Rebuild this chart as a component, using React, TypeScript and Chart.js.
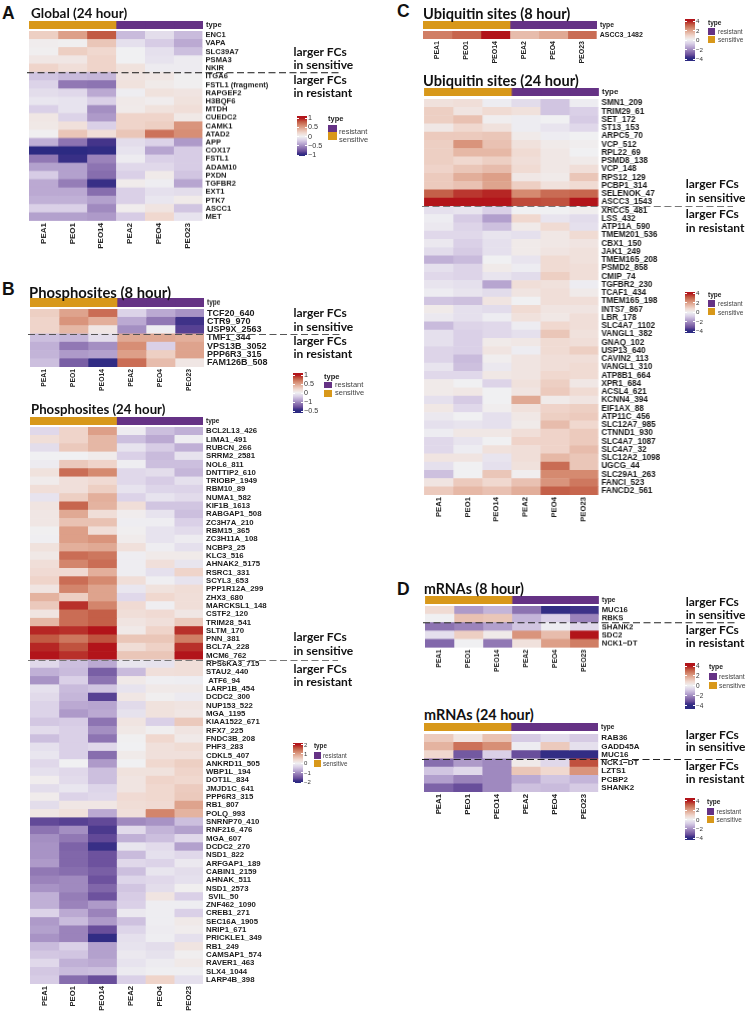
import React, { useEffect, useRef } from "react";
import { Chart, registerables } from "chart.js";

Chart.register(...registerables);

// ---------- shared categories ----------
const samples = ["PEA1", "PEO1", "PEO14", "PEA2", "PEO4", "PEO23"];
const sampleTypes = ["sensitive", "sensitive", "sensitive", "resistant", "resistant", "resistant"];
const typeColors: Record<string, string> = { resistant: "#653285", sensitive: "#D8981A" };

// ---------- A: Global (24 hour) ----------
const globalRows = ["ENC1", "VAPA", "SLC39A7", "PSMA3", "NKIR", "ITGA6", "FSTL1 (fragment)", "RAPGEF2", "H3BQF6", "MTDH", "CUEDC2", "CAMK1", "ATAD2", "APP", "COX17", "FSTL1", "ADAM10", "PXDN", "TGFBR2", "EXT1", "PTK7", "ASCC1", "MET"];
const globalValues = [
  [.25, .5, .8, -.3, -.12, -.3],
  [.03, .02, .3, -.1, -.22, -.38],
  [.02, .25, .2, 0, -.1, -.28],
  [.08, .08, .22, 0, -.08, -.03],
  [.22, .15, .22, .12, -.03, -.03],
  [-.25, -.3, -.32, .1, .08, .01],
  [-.18, -.6, -.62, .12, .05, .02],
  [-.12, -.15, -.38, -.02, .12, .1],
  [-.06, -.08, -.2, .06, .03, .12],
  [-.2, -.08, -.5, .05, .12, .15],
  [.08, -.18, -.45, .22, .22, .07],
  [.07, .13, -.2, .22, .25, .55],
  [.01, .3, .15, .3, .7, .58],
  [-.35, -.62, -.9, -.12, -.18, -.45],
  [-1, -1, -.98, -.08, -.4, -.22],
  [-.6, -.95, -.55, -.03, -.2, -.22],
  [-.42, -.42, -.62, -.15, -.15, -.22],
  [-.22, -.42, -.65, -.2, .05, -.25],
  [-.38, -.58, -.95, .04, -.02, -.4],
  [-.38, -.38, -.65, -.2, -.1, -.12],
  [-.35, -.35, -.42, -.2, -.06, .05],
  [-.2, -.2, -.52, .03, .1, -.25],
  [-.42, -.42, -.45, -.22, .2, -.08],
];

// ---------- B: Phosphosites (8 hour) ----------
const phos8Rows = ["TCF20_640", "CTR9_970", "USP9X_2563", "TMF1_344", "VPS13B_3052", "PPP6R3_315", "FAM126B_508"];
const phos8Values = [
  [.25, .48, .72, -.18, -.38, -.48],
  [.22, .55, .42, -.38, -.6, -.92],
  [.22, .38, .08, -.5, -.02, -.85],
  [-.28, -.32, -.12, .45, .45, .42],
  [-.35, -.6, -.5, .58, -.2, .48],
  [-.33, -.45, -.42, .5, .25, .48],
  [-.28, -.72, -.98, .72, .35, .08],
];

// ---------- B: Phosphosites (24 hour) ----------
const phos24Rows = ["BCL2L13_426", "LIMA1_491", "RUBCN_266", "SRRM2_2581", "NOL6_811", "DNTTIP2_610", "TRIOBP_1949", "RBM10_89", "NUMA1_582", "KIF1B_1613", "RABGAP1_508", "ZC3H7A_210", "RBM15_365", "ZC3H11A_108", "NCBP3_25", "KLC3_516", "AHNAK2_5175", "RSRC1_331", "SCYL3_653", "PPP1R12A_299", "ZHX3_680", "MARCKSL1_148", "CSTF2_120", "TRIM28_541", "SLTM_170", "PNN_381", "BCL7A_228", "MCM6_762", "RPS6KA3_715", "STAU2_440", " ATF6_94", "LARP1B_454", "DCDC2_300", "NUP153_522", "MGA_1195", "KIAA1522_671", "RFX7_225", "FNDC3B_208", "PHF3_283", "CDKL5_407", "ANKRD11_505", "WBP1L_194", "DOT1L_834", "JMJD1C_641", "PPP6R3_315", "RB1_807", "POLQ_993", "SNRNP70_410", "RNF216_476", "MGA_607", "DCDC2_270", "NSD1_822", "ARFGAP1_189", "CABIN1_2159", "AHNAK_511", "NSD1_2573", " SVIL_50", "ZNF462_1090", "CREB1_271", "SEC16A_1905", "NRIP1_671", "PRICKLE1_349", "RB1_249", "CAMSAP1_574", "RAVER1_463", "SLX4_1044", "LARP4B_398"];
const phos24Values = [
  [-.3, .44, 1, -.06, -.56, -.7],
  [.3, .44, .76, -.56, -.76, -.04],
  [-.24, .56, .76, -.16, -.44, -.7],
  [0, 0, .08, -.4, -.6, -.16],
  [-.06, .56, .44, -.04, -.56, -.56],
  [.24, 1.44, 1.2, -.3, -.24, -.64],
  [.08, .28, .36, -.3, -.44, -.2],
  [.3, .28, .5, -.16, -.34, -.36],
  [-.16, .5, .84, -.36, -.16, -.26],
  [.2, 1.5, .8, .3, -.5, -.5],
  [.16, .9, .3, .06, -.16, -.56],
  [.16, .64, .64, -.04, -.04, -.4],
  [.02, 1, .3, .04, -.16, -.26],
  [-.02, 1, 1.1, .08, -.16, -.06],
  [.24, .84, .9, .26, -.04, -.2],
  [.14, 1.44, 1.36, -.04, .1, .1],
  [.3, 1.24, 1.44, -.04, .28, -.14],
  [.36, .36, .84, -.04, -.2, .44],
  [.44, 1.44, 1.2, .3, -.02, -.16],
  [.2, 1.24, .96, -.12, .24, .32],
  [.8, .5, .96, -.3, .4, .3],
  [.56, 1.84, 1.24, .36, -.02, .3],
  [.2, 1.44, 1.56, .3, .36, .16],
  [.76, 1.44, 1.56, .2, .28, .56],
  [1.9, 1.84, 2, .12, .44, 1.84],
  [1.6, 1.36, 1.64, .6, .6, 1.3],
  [1.9, 1.64, 2, .32, .48, 1.84],
  [2, 1.84, 2, .6, .6, 2],
  [-.3, -.56, -.76, -.14, -.18, .3],
  [-.7, -.6, -1.44, -.6, .28, .3],
  [-.96, -.4, -1.24, .12, -.02, -.04],
  [-.2, -.6, -.5, -.16, .12, .12],
  [-.28, -.64, -1.7, .16, .04, -.08],
  [-.36, -.76, -.8, -.28, .24, .2],
  [-.36, -.9, -.76, -.18, .24, .16],
  [-.48, -.44, -1.24, .2, -.4, .56],
  [-.26, -.4, -1, .14, .04, .2],
  [-.56, -.4, -1.24, .02, .4, .12],
  [-.2, -.4, -.3, 0, .26, .34],
  [-.12, -.4, -1.3, .1, .26, .26],
  [-.3, 0, -.9, 0, .4, .5],
  [-.2, -.3, -.56, .24, .24, .44],
  [.06, -.26, -.56, .2, .44, .4],
  [-.24, -.12, -.34, .2, .4, .54],
  [.08, -.36, -.3, .36, .4, .56],
  [-.24, .16, .16, .32, .36, .96],
  [.16, .26, -.76, .28, 1.24, .8],
  [-1.64, -1.7, -1.64, -1.04, -.96, -.56],
  [-1.24, -1, -1.76, -.28, -.66, -.84],
  [-1, -1.2, -1.64, -.7, -.56, -.3],
  [-.96, -1.4, -1.9, -.14, -.26, -.84],
  [-.96, -1.36, -1.56, -.6, -.2, -.3],
  [-.9, -1.36, -1.56, -.3, -.36, -.1],
  [-1.2, -1.3, -1.44, -.56, -.14, -.24],
  [-1.1, -1.04, -1.56, -.34, -.3, -.2],
  [-.96, -1.04, -1.36, -.5, -.24, .04],
  [-.7, -1.16, -1.56, -.44, .2, -.4],
  [-.7, -1.1, -.9, -.4, -.04, -.04],
  [-.36, -.76, -1.1, -.1, -.04, -.4],
  [-.9, -.6, -.9, -.54, -.04, .12],
  [-.84, -1.1, -1.6, -.34, -.06, .06],
  [-.96, -1.1, -1.96, -.2, -.04, -.2],
  [-.6, -.4, -.84, -.16, -.24, .2],
  [-.48, -.5, -.84, -.1, -.18, .04],
  [-.3, -.7, -.76, -.16, -.06, .12],
  [-.48, -.6, -.56, -.08, -.02, -.02],
  [-.44, -1.3, -1.6, -.4, .44, -.2],
];

// ---------- C: Ubiquitin sites (8 hour) ----------
const ubi8Rows = ["ASCC3_1482"];
const ubi8Values = [[2.6, 3, 4, 1.4, 1.8, 2.9]];

// ---------- C: Ubiquitin sites (24 hour) ----------
const ubi24Rows = ["SMN1_209", "TRIM29_61", "SET_172", "ST13_153", "ARPC5_70", "VCP_512", "RPL22_69", "PSMD8_138", "VCP_148", "RPS12_129", "PCBP1_314", "SELENOK_47", "ASCC3_1543", "XRCC5_481", "LSS_432", "ATP11A_590", "TMEM201_536", "CBX1_150", "JAK1_249", "TMEM165_208", "PSMD2_858", "CMIP_74", "TGFBR2_230", "TCAF1_434", "TMEM165_198", "INTS7_867", "LBR_178", "SLC4A7_1102", "VANGL1_382", "GNAQ_102", "USP13_640", "CAVIN2_113", "VANGL1_310", "ATP8B1_664", "XPR1_684", "ACSL4_621", "KCNN4_394", "EIF1AX_88", "ATP11C_456", "SLC12A7_985", "CTNND1_930", "SLC4A7_1087", "SLC4A7_32", "SLC12A2_1098", "UGCG_44", "SLC29A1_263", "FANCI_523", "FANCD2_561"];
const ubi24Values = [
  [.5, .6, -.1, -.5, -1, -.1],
  [1, .4, .7, .5, -1, -.8],
  [1, 1.3, .1, -.1, 0, -.9],
  [.3, .8, .5, -.1, -.3, -.6],
  [1.1, 1.1, 1.2, .2, -.1, 0],
  [1, 2.2, 1.3, .5, .2, .1],
  [1, 1.5, 1.5, .7, .3, 0],
  [1, .8, 1, .6, .3, .2],
  [.9, 1.2, 1.4, .7, .3, .6],
  [1.1, 1.7, 2, .3, .2, 1.2],
  [1.1, 1.3, 1.9, 1, .5, .7],
  [3.1, 3.6, 3.8, 2.4, 2.9, 3],
  [4, 4, 4, 3.4, 3.3, 4],
  [-.4, -.3, -.8, 0, 0, .1],
  [-.1, -.9, -1.7, .8, -.3, -.5],
  [-.2, -.7, -1.1, .2, .7, -.4],
  [-.6, -.6, -.3, -.4, .3, .7],
  [-.2, -.8, -.4, .2, .3, .4],
  [-.5, -.9, -.4, .2, .4, .5],
  [-1.4, -1.2, 0, -.3, .7, .5],
  [-.4, -.7, .2, -.1, .7, .6],
  [-.6, -.7, -.3, -.5, 1, .6],
  [-.3, -.4, -1.6, .6, .5, -.1],
  [-.1, -.3, -.5, .4, .6, .2],
  [-1, -1.1, .4, 0, .6, .6],
  [.2, -.4, -.5, .7, .4, .4],
  [-.2, -.4, -.1, .5, .3, .6],
  [-1.2, -.7, -.6, -.1, .8, .6],
  [-.4, -.8, -.6, -.4, 1.2, .5],
  [-.4, -.8, .2, .3, .7, .6],
  [-.7, -.8, .4, -.1, .7, 1],
  [-.7, -1.2, .1, .4, .6, .6],
  [-.3, -1.1, -.2, .4, .6, .7],
  [-.6, -.6, .3, .4, .8, .7],
  [.2, 0, -.7, .5, 1, .3],
  [.2, .3, 0, .4, 1.1, .7],
  [-.4, -.9, 0, 1.8, .2, .4],
  [.3, -.6, .1, .5, .9, 1],
  [-.2, 0, -.4, .3, 1, 1.1],
  [-.4, -.3, -.4, .2, 1.4, .8],
  [-.1, .3, .3, .6, .9, 1.1],
  [-.6, -.3, 0, .9, .9, 1.1],
  [-.6, -.1, .5, .6, .9, 1.4],
  [.4, .4, -.3, .6, 1.5, 1.2],
  [-.4, 0, -.4, .5, 2.9, 1.2],
  [-1.1, 0, 1.2, .1, 2.4, 2.4],
  [.4, 1.1, .8, 1.3, 2.2, 2.7],
  [1.1, 1.5, 1.3, 1.7, 3.1, 3],
];

// ---------- D: mRNAs ----------
const mrna8Rows = ["MUC16", "RBKS", "SHANK2", "SDC2", "NCK1\u2212DT"];
const mrna8Values = [
  [.7, -1.8, -1.3, -2.5, -3.9, -3.7],
  [0, 1.3, 1.2, -1.3, -.8, -2.2],
  [-2.5, -2.2, -1.7, -1, -.1, -.6],
  [-.4, 1, .2, 2.2, 1.4, 4],
  [-2.7, 0, -2.4, .5, 2, 2.6],
];
const mrna24Rows = ["RAB36", "GADD45A", "MUC16", "NCK1\u2212DT", "LZTS1", "PCBP2", "SHANK2"];
const mrna24Values = [
  [1.1, .4, 1.3, -.9, -.5, -.9],
  [1.6, 2.8, 2.3, -.1, 1.1, -.4],
  [.8, -3, -.8, -3.2, -3.9, -3.9],
  [-2.6, -1.8, -2.1, .2, -.6, 3.3],
  [-1, -.6, -2.1, 1.2, .8, 2.2],
  [-1.7, -2.2, -2.1, -1.5, -1, -1.3],
  [-2.8, -3.2, -2.1, -1.1, -1.2, -.9],
];

// ---------- colour ramp (fraction of colour-bar maximum -> colour) ----------
const rampStops: [number, number[]][] = [
  [-1, [44, 42, 130]],
  [-.9, [68, 52, 138]],
  [-.8, [105, 78, 155]],
  [-.6, [145, 120, 180]],
  [-.4, [183, 165, 208]],
  [-.2, [218, 208, 231]],
  [0, [240, 240, 242]],
  [.2, [240, 216, 207]],
  [.4, [228, 179, 160]],
  [.6, [213, 138, 112]],
  [.8, [194, 90, 67]],
  [1, [178, 20, 26]],
];
function rampColor(f: number) {
  const t = Math.max(-1, Math.min(1, f));
  for (let i = 1; i < rampStops.length; i++) {
    const [a, ca] = rampStops[i - 1];
    const [b, cb] = rampStops[i];
    if (t <= b) {
      const k = (t - a) / (b - a);
      const c = ca.map((v, n) => Math.round(v + (cb[n] - v) * k));
      return `rgb(${c[0]},${c[1]},${c[2]})`;
    }
  }
  return "rgb(178,20,26)";
}

const LABEL_FONT = "'Liberation Sans', Arial, sans-serif";
const TITLE_FONT = "Lato, 'Open Sans', sans-serif";
const BLUR = "blur(0.5px)";

type HeatProps = {
  rows: string[];
  cells: (string | null)[][];
  left: number; top: number; width: number; height: number;
  canvasRight: number;
  xArea: number;
  labelSize: number;
  xSize?: number;
  dashAfter?: number;
  dashColor?: string;
};

function HeatCanvas(p: HeatProps) {
  const ref = useRef<HTMLCanvasElement>(null);
  const pad = 2;
  const cw = p.canvasRight - p.left + pad;
  const ch = p.height + p.xArea;
  useEffect(() => {
    const datasets = samples.map((s, j) => ({
      label: s,
      data: p.rows.map(() => 1),
      backgroundColor: p.cells.map((r) => r[j] as string),
      borderWidth: 0,
      barPercentage: 1,
      categoryPercentage: 1,
    }));
    const dashPlugin = {
      id: "dash",
      afterDraw(chart: any) {
        if (p.dashAfter === undefined) return;
        const ys = chart.scales.y;
        const y = Math.round((ys.getPixelForValue(p.dashAfter - 1) + ys.getPixelForValue(p.dashAfter)) / 2) + 0.5;
        const c = chart.ctx;
        c.save();
        c.strokeStyle = p.dashColor || "#222";
        c.lineWidth = 1.1;
        c.setLineDash([7, 3.5]);
        c.beginPath();
        c.moveTo(0, y);
        c.lineTo(chart.width, y);
        c.stroke();
        c.restore();
      },
    };
    const zeroPad = (s: any) => {
      s.paddingLeft = 0; s.paddingRight = 0; s.paddingTop = 0; s.paddingBottom = 0;
    };
    const chart = new Chart(ref.current as HTMLCanvasElement, {
      type: "bar",
      data: { labels: p.rows, datasets },
      plugins: [dashPlugin],
      options: {
        indexAxis: "y",
        animation: false,
        responsive: false,
        layout: { padding: { left: pad, right: 0, top: 0, bottom: 0 } },
        plugins: { legend: { display: false }, tooltip: { enabled: false }, title: { display: false } },
        scales: {
          x: {
            type: "linear",
            stacked: true,
            min: 0,
            max: samples.length,
            display: p.xArea > 0,
            grid: { display: false, drawTicks: false },
            border: { display: false },
            afterBuildTicks: (a: any) => { a.ticks = samples.map((_, i) => ({ value: i + 0.5 })); },
            afterFit: (s: any) => { s.height = p.xArea; zeroPad(s); },
            ticks: {
              autoSkip: false, minRotation: 90, maxRotation: 90, padding: 2,
              color: "#222",
              font: { family: LABEL_FONT, size: p.xSize || 8, weight: "bold" },
              callback: (_v: any, i: number) => samples[i],
            },
          },
          y: {
            type: "category",
            stacked: true,
            position: "right",
            grid: { display: false, drawTicks: false },
            border: { display: false },
            afterFit: (s: any) => { s.width = p.canvasRight - p.left - p.width; zeroPad(s); },
            ticks: {
              autoSkip: false, padding: 3, color: "#1c1c1c",
              font: { family: LABEL_FONT, size: p.labelSize, weight: "bold" },
            },
          },
        },
      } as any,
    } as any);
    return () => chart.destroy();
  }, []);
  return (
    <canvas
      ref={ref}
      width={cw}
      height={ch}
      style={{ position: "absolute", left: p.left - pad, top: p.top, width: cw, height: ch, display: "block" }}
    />
  );
}

type PanelProps = {
  rows: string[]; values: number[][]; max: number;
  left: number; width: number; annotTop: number; annotH: number; heatTop: number; heatH: number;
  canvasRight: number; xArea: number; labelSize: number; xSize: number; typeSize: number;
  dashAfter?: number; dashColor?: string;
};

function Panel(p: PanelProps) {
  const cells = p.values.map((r) => r.map((v) => rampColor(v / p.max)));
  return (
    <>
      <HeatCanvas rows={["type"]} cells={[sampleTypes.map((t) => typeColors[t])]} left={p.left} top={p.annotTop}
        width={p.width} height={p.annotH} canvasRight={p.left + p.width + 30} xArea={0} labelSize={p.typeSize} />
      <HeatCanvas rows={p.rows} cells={cells} left={p.left} top={p.heatTop} width={p.width} height={p.heatH}
        canvasRight={p.canvasRight} xArea={p.xArea} labelSize={p.labelSize} xSize={p.xSize}
        dashAfter={p.dashAfter} dashColor={p.dashColor} />
    </>
  );
}

function Txt(p: { x: number; y: number; size: number; font?: string; weight?: any; color?: string; children: any }) {
  return (
    <div style={{
      position: "absolute", left: p.x, top: p.y, transform: "translateY(-50%)", whiteSpace: "nowrap", lineHeight: 1,
      fontFamily: p.font || LABEL_FONT, fontSize: p.size, fontWeight: p.weight ?? "normal", color: p.color || "#111",
    }}>{p.children}</div>
  );
}

function Legend(p: {
  barX: number; barTop: number; barBottom: number; tickTop: number; tickBottom: number; ticks: string[];
  typeX: number; typeY: number; swX: number; swW: number; swY: number[]; swH: number; textX: number; textY: number[]; size: number;
}) {
  const stops = [...rampStops].reverse().map(([f]) => {
    const frac = ((1 - f) / 2) * (p.tickBottom - p.tickTop) + (p.tickTop - p.barTop);
    return `${rampColor(f)} ${frac}px`;
  }).join(",");
  const step = (p.tickBottom - p.tickTop) / (p.ticks.length - 1);
  const bw = 9.5;
  return (
    <>
      <div style={{ position: "absolute", left: p.barX, top: p.barTop, width: bw, height: p.barBottom - p.barTop, background: `linear-gradient(to bottom, ${stops})` }} />
      {p.ticks.map((t, i) => {
        const y = p.tickTop + i * step;
        return (
          <React.Fragment key={t + i}>
            <div style={{ position: "absolute", left: p.barX, top: y - 0.5, width: 2, height: 1, background: "#fff" }} />
            <div style={{ position: "absolute", left: p.barX + bw - 2, top: y - 0.5, width: 2, height: 1, background: "#fff" }} />
            <Txt x={p.barX + bw + 1.5} y={y} size={p.size - 0.3} color="#333">{t}</Txt>
          </React.Fragment>
        );
      })}
      <Txt x={p.typeX} y={p.typeY} size={p.size} weight="bold" color="#222">type</Txt>
      {(["resistant", "sensitive"] as const).map((t, i) => (
        <React.Fragment key={t}>
          <div style={{ position: "absolute", left: p.swX, top: p.swY[i], width: p.swW, height: p.swH, background: typeColors[t] }} />
          <Txt x={p.textX} y={p.textY[i]} size={p.size} color="#444">{t}</Txt>
        </React.Fragment>
      ))}
    </>
  );
}

function Note(p: { x: number; ys: number[] }) {
  const lines = ["larger FCs", "in sensitive", "larger FCs", "in resistant"];
  return (
    <>
      {lines.map((l, i) => (
        <Txt key={i} x={p.x} y={p.ys[i]} size={12} font={TITLE_FONT} weight={700} color="#111">{l}</Txt>
      ))}
    </>
  );
}

const tick1 = ["1", "0.5", "0", "\u22120.5", "\u22121"];
const tick1b = ["1", "0.5", "0", "\u22121", "\u22120.5"];
const tick2 = ["2", "1", "0", "\u22121", "\u22122"];
const tick4 = ["4", "2", "0", "\u22122", "\u22124"];

export default function App() {
  return (
    <div style={{ position: "absolute", left: 0, top: 0, width: 747, height: 1012, background: "#fff", overflow: "hidden", filter: BLUR }}>
      <Panel rows={globalRows} values={globalValues} max={1} left={28.5} width={174} annotTop={20.5} annotH={8.5} heatTop={31.3} heatH={189.4}
        canvasRight={339} xArea={32} labelSize={7.6} xSize={8} typeSize={7.6} dashAfter={5} />
      <Panel rows={phos8Rows} values={phos8Values} max={1} left={30} width={174} annotTop={298.3} annotH={8.4} heatTop={308.7} heatH={58}
        canvasRight={340} xArea={30} labelSize={9} xSize={6.8} typeSize={6.5} dashAfter={3} dashColor="#555" />
      <Panel rows={phos24Rows} values={phos24Values} max={2} left={29.5} width={173.5} annotTop={416.7} annotH={8.3} heatTop={426.7} heatH={557.6}
        canvasRight={338} xArea={28} labelSize={7.8} xSize={7.7} typeSize={6.5} dashAfter={28} dashColor="#777" />
      <Panel rows={ubi8Rows} values={ubi8Values} max={4} left={422.7} width={174} annotTop={21.3} annotH={8} heatTop={31.3} heatH={8}
        canvasRight={660} xArea={30} labelSize={7} xSize={7} typeSize={6.8} />
      <Panel rows={ubi24Rows} values={ubi24Values} max={4} left={424.3} width={174.4} annotTop={88} annotH={8} heatTop={99} heatH={396}
        canvasRight={733} xArea={30} labelSize={8.2} xSize={7.7} typeSize={8} dashAfter={13} dashColor="#777" />
      <Panel rows={mrna8Rows} values={mrna8Values} max={4} left={425} width={173.7} annotTop={596} annotH={8} heatTop={606} heatH={41.7}
        canvasRight={735} xArea={30} labelSize={7.7} xSize={6.8} typeSize={6.5} dashAfter={2} />
      <Panel rows={mrna24Rows} values={mrna24Values} max={4} left={424} width={174.3} annotTop={722.7} annotH={8.6} heatTop={733.7} heatH={58}
        canvasRight={733} xArea={32} labelSize={8} xSize={7.8} typeSize={6.5} dashAfter={3} />

      <Txt x={2} y={14} size={17.5} weight="bold" color="#111">A</Txt>
      <Txt x={2} y={290} size={17.5} weight="bold" color="#111">B</Txt>
      <Txt x={397} y={11.5} size={17.5} weight="bold" color="#111">C</Txt>
      <Txt x={397} y={590} size={17.5} weight="bold" color="#111">D</Txt>

      <Txt x={31} y={14} size={13.5} font={TITLE_FONT} weight={700}>Global (24 hour)</Txt>
      <Txt x={29} y={292} size={14.8} font={TITLE_FONT} weight={700}>Phosphosites (8 hour)</Txt>
      <Txt x={31} y={410} size={13.2} font={TITLE_FONT} weight={700}>Phosphosites (24 hour)</Txt>
      <Txt x={423} y={13.5} size={14.6} font={TITLE_FONT} weight={700}>Ubiquitin sites (8 hour)</Txt>
      <Txt x={423} y={81} size={14.6} font={TITLE_FONT} weight={700}>Ubiquitin sites (24 hour)</Txt>
      <Txt x={424} y={589} size={14.2} font={TITLE_FONT} weight={700}>mRNAs (8 hour)</Txt>
      <Txt x={424} y={715} size={14.4} font={TITLE_FONT} weight={700}>mRNAs (24 hour)</Txt>

      <Note x={293.5} ys={[51.5, 65, 79.5, 92.5]} />
      <Note x={293.5} ys={[313.3, 326.7, 341, 354.3]} />
      <Note x={293.5} ys={[637, 650.7, 669, 682.3]} />
      <Note x={685.7} ys={[184.3, 197.7, 214.3, 227.7]} />
      <Note x={685.7} ys={[602, 615.3, 630, 643.3]} />
      <Note x={685.7} ys={[734.7, 747.3, 766, 779.3]} />

      <Legend barX={297} barTop={116} barBottom={155.5} tickTop={118} tickBottom={155} ticks={tick1} typeX={328} typeY={119} swX={328} swW={9} swY={[124.5, 132]} swH={7.5} textX={339} textY={[132, 140]} size={7.5} />
      <Legend barX={293} barTop={373.3} barBottom={413.3} tickTop={375} tickBottom={411} ticks={tick1b} typeX={324} typeY={376.5} swX={324} swW={8} swY={[381.5, 390]} swH={6.5} textX={335} textY={[385, 393]} size={7.5} />
      <Legend barX={293} barTop={743} barBottom={783} tickTop={744.5} tickBottom={782} ticks={tick2} typeX={314} typeY={746} swX={314} swW={7} swY={[752, 760]} swH={6.5} textX={323} textY={[755.5, 763.5]} size={6.3} />
      <Legend barX={685} barTop={19.3} barBottom={60.7} tickTop={21} tickBottom={59} ticks={tick4} typeX={708} typeY={23} swX={708} swW={7} swY={[28, 36]} swH={7} textX={718} textY={[32, 40]} size={6.5} />
      <Legend barX={685} barTop={291.7} barBottom={332.7} tickTop={293} tickBottom={331} ticks={tick4} typeX={708} typeY={295} swX={708} swW={7} swY={[300, 308]} swH={7} textX={718} textY={[304, 312.5]} size={6.5} />
      <Legend barX={685} barTop={663.3} barBottom={708.7} tickTop={666} tickBottom={705.7} ticks={tick4} typeX={709} typeY={667} swX={709} swW={7.5} swY={[673, 682]} swH={7} textX={719} textY={[677, 685.5]} size={6.8} />
      <Legend barX={685} barTop={798} barBottom={840} tickTop={800.7} tickBottom={838.3} ticks={tick4} typeX={707} typeY={802} swX={707} swW={7} swY={[808, 816]} swH={7} textX={716.5} textY={[811.5, 819.5]} size={6.5} />
    </div>
  );
}
